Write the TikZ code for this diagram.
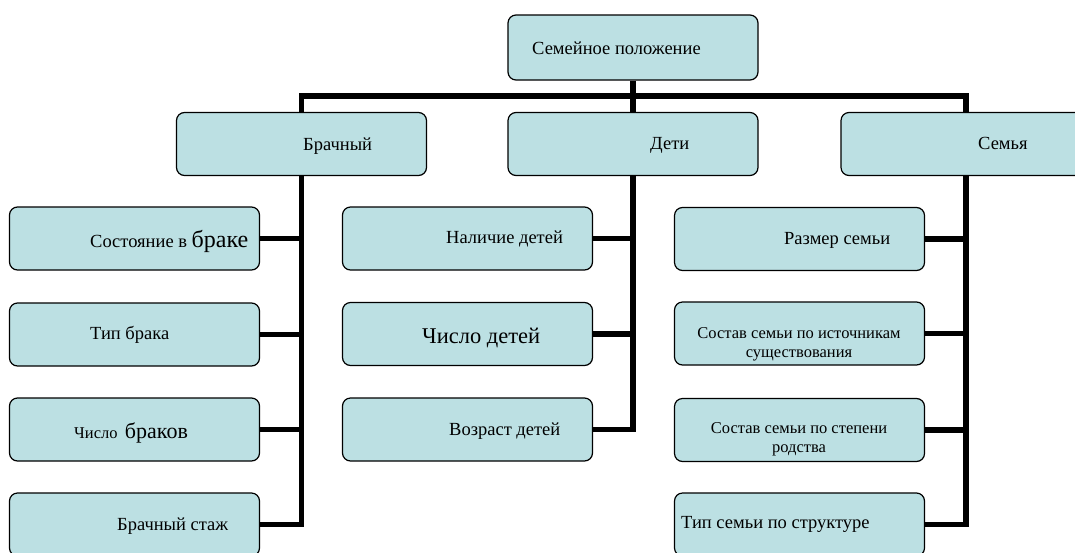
\documentclass[tikz,border=0pt]{standalone}
\usepackage{fontspec}
\setmainfont{Liberation Serif}
\definecolor{boxfill}{RGB}{188,224,227}
\tikzset{
  box/.style={draw=black, line width=1.2pt, fill=boxfill, rounded corners=8pt,
    minimum width=250pt, minimum height=63pt, inner sep=0pt},
  conn/.style={draw=black, line width=5.5pt, line join=miter},
  lbl/.style={inner sep=0pt, anchor=base west, font=\fontsize{18.5}{21}\selectfont, text=black},
  lblc/.style={inner sep=0pt, anchor=base, font=\fontsize{16.5}{19}\selectfont, text=black}
}
\newcommand{\bigword}[1]{{\fontsize{24}{26}\selectfont #1}}
\begin{document}
\begin{tikzpicture}[x=1pt,y=-1pt]
\useasboundingbox (0,0) rectangle (1075,552);
\clip (0,0) rectangle (1075,552);
% boxes
\node[box, minimum height=65pt] (top) at (633,47.5) {};
\node[box] (brak) at (301.5,144) {};
\node[box] (deti) at (633,144) {};
\node[box] (semya) at (966,144) {};
\node[box] (b1) at (134.5,238.5) {};
\node[box] (b2) at (134.5,334.5) {};
\node[box] (b3) at (134.5,429.5) {};
\node[box] (b4) at (134.5,524.5) {};
\node[box] (d1) at (467.5,238.5) {};
\node[box] (d2) at (467.5,334) {};
\node[box] (d3) at (467.5,429.5) {};
\node[box] (s1) at (799.5,239) {};
\node[box] (s2) at (799.5,333.5) {};
\node[box] (s3) at (799.5,430) {};
\node[box] (s4) at (799.5,524.5) {};
% connectors
\coordinate (bar) at (0,96);
\draw[conn] (top.south) -- (deti.north);
\draw[conn] (brak.north) -- (brak.north |- bar) -- (semya.north |- bar) -- (semya.north);
\draw[conn] (brak.south) -- (brak.south |- b4.east) -- (b4.east);
\draw[conn] (b1.east) -- (b1.east -| brak.south);
\draw[conn] (b2.east) -- (b2.east -| brak.south);
\draw[conn] (b3.east) -- (b3.east -| brak.south);
\draw[conn] (deti.south) -- (deti.south |- d3.east) -- (d3.east);
\draw[conn] (d1.east) -- (d1.east -| deti.south);
\draw[conn] (d2.east) -- (d2.east -| deti.south);
\draw[conn] (semya.south) -- (semya.south |- s4.east) -- (s4.east);
\draw[conn] (s1.east) -- (s1.east -| semya.south);
\draw[conn] (s2.east) -- (s2.east -| semya.south);
\draw[conn] (s3.east) -- (s3.east -| semya.south);
% labels
\node[lbl] (ttop) at (532,54) {Семейное положение};
\node[lbl] (tbrak) at (303,150) {Брачный};
\node[lbl] (tdeti) at (650,149) {Дети};
\node[lbl] (tsemya) at (978,149) {Семья};
\node[lbl] (tb1) at (90,247) {Состояние в \bigword{браке}};
\node[lbl] (tb2) at (90,339) {Тип брака};
\node[lbl] (tb3) at (74,438) {{\fontsize{16.5}{19}\selectfont Число}\hspace{0.4em}{\fontsize{22}{24}\selectfont браков}};
\node[lbl] (tb4) at (117,530) {Брачный стаж};
\node[lbl] (td1) at (446,243) {Наличие детей};
\node[lbl, font=\fontsize{22.5}{25}\selectfont] (td2) at (422,343) {Число детей};
\node[lbl] (td3) at (449,435) {Возраст детей};
\node[lbl] (ts1) at (784,244) {Размер семьи};
\node[lblc] (ts2a) at (799,338) {Состав семьи по источникам};
\node[lblc] (ts2b) at (799,357) {существования};
\node[lblc] (ts3a) at (799,433) {Состав семьи по степени};
\node[lblc] (ts3b) at (799,452.5) {родства};
\node[lbl] (ts4) at (681,528) {Тип семьи по структуре};
\end{tikzpicture}
\end{document}
